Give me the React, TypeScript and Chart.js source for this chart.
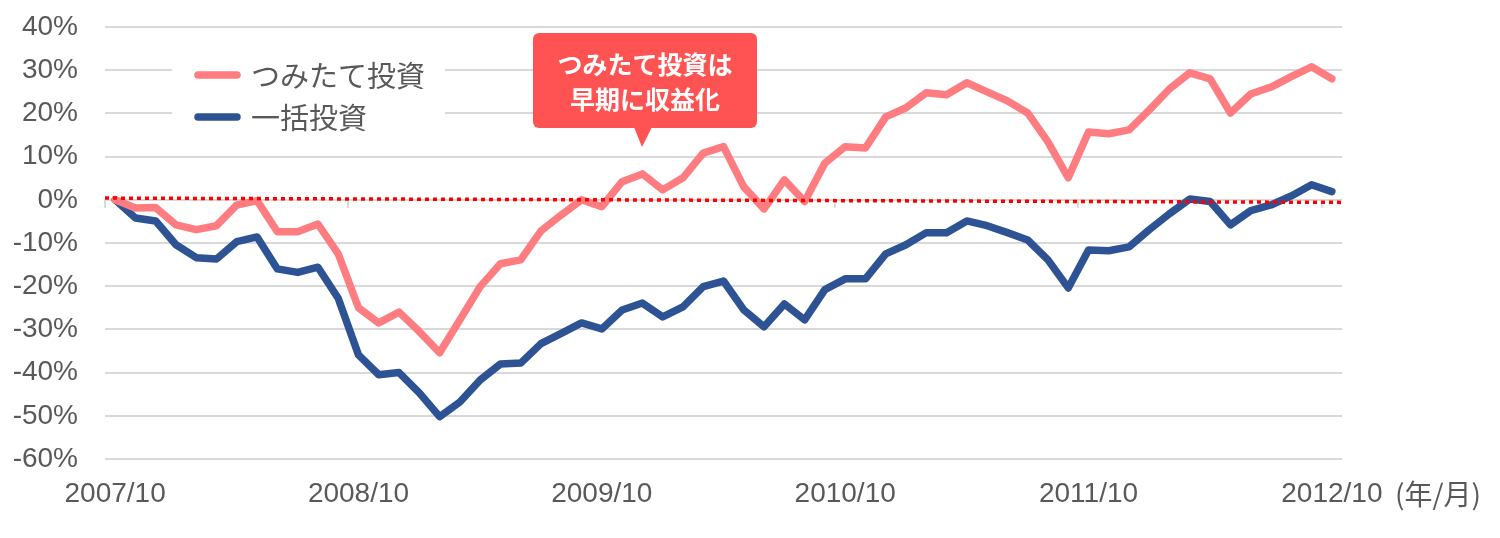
import React, { useEffect, useRef } from 'react';
import { Chart, registerables } from 'chart.js';

Chart.register(...registerables);

const categories = [
  '2007/10', '2007/11', '2007/12', '2008/1', '2008/2', '2008/3', '2008/4', '2008/5', '2008/6', '2008/7', '2008/8', '2008/9',
  '2008/10', '2008/11', '2008/12', '2009/1', '2009/2', '2009/3', '2009/4', '2009/5', '2009/6', '2009/7', '2009/8', '2009/9',
  '2009/10', '2009/11', '2009/12', '2010/1', '2010/2', '2010/3', '2010/4', '2010/5', '2010/6', '2010/7', '2010/8', '2010/9',
  '2010/10', '2010/11', '2010/12', '2011/1', '2011/2', '2011/3', '2011/4', '2011/5', '2011/6', '2011/7', '2011/8', '2011/9',
  '2011/10', '2011/11', '2011/12', '2012/1', '2012/2', '2012/3', '2012/4', '2012/5', '2012/6', '2012/7', '2012/8', '2012/9',
  '2012/10',
];

const tickLabels = ['2007/10', '2008/10', '2009/10', '2010/10', '2011/10', '2012/10'];

const tsumitate = [
  0, -1.9, -1.8, -5.8, -6.9, -6.0, -1.2, -0.2, -7.4, -7.4, -5.6, -12.5,
  -25.0, -28.5, -26.0, -30.5, -35.4, -27.8, -20.1, -14.8, -13.9, -7.2, -3.5, 0.0,
  -1.6, 4.2, 6.0, 2.3, 5.1, 10.8, 12.3, 3.0, -2.1, 4.6, -0.4, 8.5,
  12.3, 12.0, 19.2, 21.3, 24.8, 24.3, 27.1, 25.0, 22.9, 20.1, 13.4, 5.1,
  15.7, 15.3, 16.2, 20.8, 25.7, 29.4, 28.0, 20.1, 24.5, 26.1, 28.5, 30.8,
  28.0,
];

const ikkatsu = [
  0, -4.2, -4.9, -10.4, -13.4, -13.7, -9.7, -8.6, -16.0, -16.8, -15.6, -22.8,
  -35.9, -40.5, -40.0, -44.7, -50.2, -46.8, -41.7, -38.0, -37.8, -33.3, -30.9, -28.5,
  -29.9, -25.5, -23.9, -27.1, -24.8, -20.1, -18.8, -25.5, -29.4, -24.1, -27.8, -20.8,
  -18.3, -18.3, -12.5, -10.4, -7.6, -7.6, -4.9, -6.0, -7.6, -9.3, -13.9, -20.4,
  -11.6, -11.8, -10.9, -6.9, -3.2, 0.2, -0.4, -5.8, -2.5, -1.2, 0.9, 3.5,
  1.9,
];

const seriesNames = ['つみたて投資', '一括投資'];
const seriesColors = ['#FF7C80', '#2E5395'];
const calloutLines = ['つみたて投資は', '早期に収益化'];
const unitLabel = '(年/月)';
const Y_MIN = -60;
const Y_MAX = 40;
const Y_STEP = 10;
const ZERO_LINE_START = 0.4;
const ZERO_LINE_END = -0.6;

const TEXT_COLOR = '#595959';
const GRID_COLOR = '#D9D9D9';
const NUM_FONT = '"Liberation Sans", Arial, sans-serif';
const CJK_FONT = '"Noto Sans CJK JP", "Noto Sans", sans-serif';

const bgPlugin = {
  id: 'bg',
  beforeDraw(chart: any) {
    const ctx = chart.ctx;
    ctx.save();
    ctx.fillStyle = '#ffffff';
    ctx.fillRect(0, 0, chart.width, chart.height);
    ctx.restore();
  },
};

const axisTickPlugin = {
  id: 'axisTicks',
  beforeDatasetsDraw(chart: any) {
    const ctx = chart.ctx;
    const x = chart.scales.x;
    const y = chart.scales.y;
    const y0 = y.getPixelForValue(0);
    const step = (x.right - x.left) / categories.length;
    ctx.save();
    ctx.strokeStyle = GRID_COLOR;
    ctx.lineWidth = 2;
    categories.forEach((c, i) => {
      if (tickLabels.includes(c)) {
        const px = Math.round(x.left + step * i);
        ctx.beginPath();
        ctx.moveTo(px, y0);
        ctx.lineTo(px, y0 + 8);
        ctx.stroke();
      }
    });
    ctx.restore();
  },
};

const zeroLinePlugin = {
  id: 'zeroLine',
  afterDatasetsDraw(chart: any) {
    const ctx = chart.ctx;
    const area = chart.chartArea;
    const y = chart.scales.y;
    ctx.save();
    ctx.strokeStyle = '#FF0000';
    ctx.lineWidth = 3.5;
    ctx.setLineDash([4, 4]);
    ctx.lineCap = 'butt';
    ctx.beginPath();
    ctx.moveTo(area.left, y.getPixelForValue(ZERO_LINE_START));
    ctx.lineTo(area.right, y.getPixelForValue(ZERO_LINE_END));
    ctx.stroke();
    ctx.restore();
  },
};

const overlayPlugin = {
  id: 'overlay',
  afterDraw(chart: any) {
    const ctx = chart.ctx;
    ctx.save();
    // legend
    ctx.fillStyle = '#ffffff';
    ctx.fillRect(172, 46, 273, 98);
    const rows = [75, 117];
    seriesNames.forEach((name, i) => {
      ctx.strokeStyle = seriesColors[i];
      ctx.lineWidth = 7.5;
      ctx.lineCap = 'round';
      ctx.beginPath();
      ctx.moveTo(198, rows[i]);
      ctx.lineTo(237, rows[i]);
      ctx.stroke();
      ctx.fillStyle = TEXT_COLOR;
      ctx.font = `29px ${CJK_FONT}`;
      ctx.textAlign = 'left';
      ctx.textBaseline = 'middle';
      ctx.fillText(name, 251, rows[i] + 1);
    });

    // callout
    ctx.fillStyle = '#FF5252';
    ctx.beginPath();
    if (ctx.roundRect) {
      ctx.roundRect(533, 33, 224, 95, 6);
    } else {
      ctx.rect(533, 33, 224, 95);
    }
    ctx.fill();
    ctx.beginPath();
    ctx.moveTo(634, 127);
    ctx.lineTo(652, 127);
    ctx.lineTo(642, 147);
    ctx.closePath();
    ctx.fill();
    ctx.fillStyle = '#ffffff';
    ctx.font = `bold 25px ${CJK_FONT}`;
    ctx.textAlign = 'center';
    ctx.textBaseline = 'middle';
    ctx.fillText(calloutLines[0], 645, 64);
    ctx.fillText(calloutLines[1], 645, 99);

    // unit label
    ctx.fillStyle = TEXT_COLOR;
    ctx.font = `28px ${CJK_FONT}`;
    ctx.textAlign = 'left';
    ctx.textBaseline = 'middle';
    ctx.fillText(unitLabel, 1395, 494);
    ctx.restore();
  },
};

export default function App() {
  const canvasRef = useRef<HTMLCanvasElement | null>(null);

  useEffect(() => {
    document.body.style.margin = '0';
    const canvas = canvasRef.current;
    if (!canvas) return;
    const chart = new Chart(canvas, {
      type: 'line',
      data: {
        labels: categories,
        datasets: [
          {
            label: seriesNames[0],
            data: tsumitate,
            borderColor: seriesColors[0],
            backgroundColor: seriesColors[0],
            borderWidth: 7.5,
            pointRadius: 0,
            pointHoverRadius: 0,
            tension: 0,
            borderJoinStyle: 'round',
            borderCapStyle: 'round',
          },
          {
            label: seriesNames[1],
            data: ikkatsu,
            borderColor: seriesColors[1],
            backgroundColor: seriesColors[1],
            borderWidth: 7.5,
            pointRadius: 0,
            pointHoverRadius: 0,
            tension: 0,
            borderJoinStyle: 'round',
            borderCapStyle: 'round',
          },
        ],
      },
      options: {
        responsive: false,
        animation: false,
        devicePixelRatio: 1,
        layout: { padding: { top: 27, right: 158, bottom: 0, left: 0 } },
        plugins: {
          legend: { display: false },
          tooltip: { enabled: false },
        },
        scales: {
          x: {
            type: 'category',
            offset: true,
            grid: { display: false, drawTicks: false },
            border: { display: false },
            ticks: {
              autoSkip: false,
              maxRotation: 0,
              minRotation: 0,
              padding: 18,
              color: TEXT_COLOR,
              font: { family: NUM_FONT, size: 28 },
              callback: (_v: any, index: number) =>
                tickLabels.includes(categories[index]) ? categories[index] : '',
            },
            afterFit: (scale: any) => {
              scale.height = 79;
            },
          },
          y: {
            min: Y_MIN,
            max: Y_MAX,
            grid: {
              color: GRID_COLOR,
              lineWidth: 2,
              drawTicks: true,
              tickLength: 27,
              tickColor: 'rgba(0,0,0,0)',
            },
            border: { display: false },
            ticks: {
              stepSize: Y_STEP,
              padding: 0,
              color: TEXT_COLOR,
              font: { family: NUM_FONT, size: 28 },
              callback: (v: any) => `${v}%`,
            },
            afterFit: (scale: any) => {
              scale.width = 105;
            },
          },
        },
      },
      plugins: [bgPlugin, axisTickPlugin, zeroLinePlugin, overlayPlugin],
    });
    return () => chart.destroy();
  }, []);

  return (
    <canvas
      ref={canvasRef}
      width={1500}
      height={538}
      style={{ display: 'block', width: 1500, height: 538 }}
    />
  );
}
